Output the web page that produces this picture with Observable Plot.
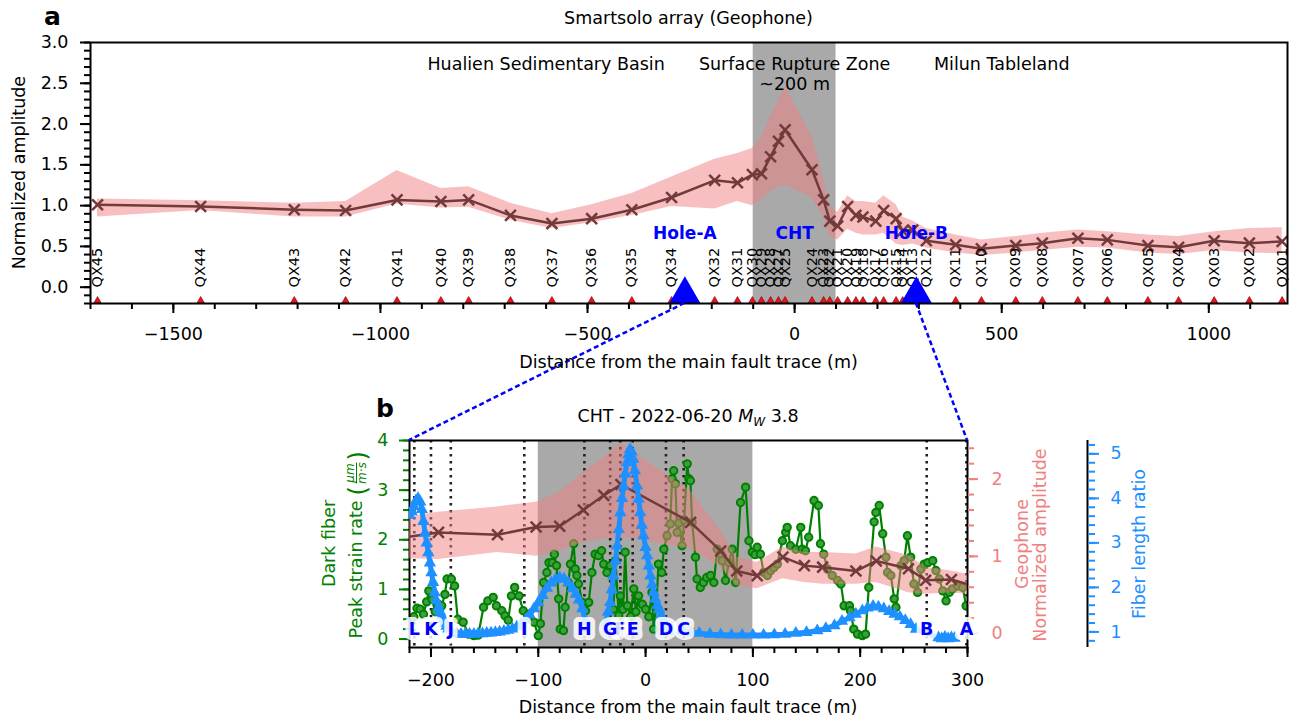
<!DOCTYPE html>
<html><head><meta charset="utf-8">
<script src="https://cdn.jsdelivr.net/npm/d3@7"></script>
<script src="https://cdn.jsdelivr.net/npm/@observablehq/plot@0.6"></script>
<style>
body{margin:0;background:#fff;}
#fig{position:relative;width:1293px;height:720px;overflow:hidden;background:#fff;font-family:"DejaVu Sans",sans-serif;}
</style></head><body><div id="fig"></div>
<script>
// ---------------- data ----------------
const stationNames = ["QX45","QX44","QX43","QX42","QX41","QX40","QX39","QX38","QX37","QX36","QX35","QX34","QX32","QX31","QX30","QX29","QX28","QX27","QX25","QX24","QX23","QX22","QX21","QX20","QX19","QX18","QX17","QX16","QX15","QX14","QX13","QX12","QX11","QX10","QX09","QX08","QX07","QX06","QX05","QX04","QX03","QX02","QX01"];
const stationDistance = [-1683,-1434,-1208,-1084,-960,-854,-787,-686,-586,-490,-393,-297,-193,-138,-102,-80,-58,-39,-23,42,70,85,104,128,148,165,196,215,245,261,285,318,389,451,534,598,684,755,853,927,1013,1098,1177];
const geoMean = [1.01,0.99,0.95,0.94,1.07,1.05,1.07,0.88,0.78,0.84,0.95,1.10,1.31,1.28,1.38,1.39,1.60,1.79,1.93,1.44,1.07,0.81,0.75,0.99,0.88,0.86,0.81,0.94,0.84,0.69,0.70,0.57,0.52,0.47,0.51,0.54,0.60,0.58,0.51,0.49,0.57,0.54,0.56];
const geoLow = [0.86,0.94,0.86,0.86,1.02,0.97,0.98,0.82,0.72,0.79,0.88,0.99,0.96,1.05,1.00,1.07,1.18,1.22,1.25,1.10,0.86,0.62,0.58,0.71,0.66,0.64,0.64,0.66,0.53,0.51,0.53,0.48,0.42,0.39,0.42,0.45,0.49,0.48,0.42,0.40,0.45,0.42,0.41];
const geoHigh = [1.08,1.06,1.03,1.05,1.43,1.21,1.23,1.03,0.90,1.01,1.15,1.35,1.57,1.64,1.70,1.83,2.09,2.28,2.46,1.85,1.33,0.99,0.92,1.12,1.05,1.05,1.03,1.12,1.01,0.86,0.81,0.72,0.64,0.58,0.62,0.66,0.70,0.68,0.64,0.62,0.68,0.72,0.73];

const ruptureZone = [-100, 100];
const regionNames = ["Hualien Sedimentary Basin", "Surface Rupture Zone\n~200 m", "Milun Tableland"];
const regionDistance = [-600, 0, 500];
const siteNames = ["Hole-A", "CHT", "Hole-B"];
const siteDistance = [-265, 0, 294];
const holeNames = ["Hole-A", "Hole-B"];
const holeDistance = [-265, 294];

const letterNames = ["L","K","J","I","H","G","F","E","D","C","B","A"];
const letterDistance = [-215.5,-200,-181.5,-113,-57,-33,-23.5,-12,19,35.5,262,299];

const greenDistance = [-219,-216,-213,-210,-207,-204,-202,-199,-196,-193,-190,-187,-185,-181,-178,-175,-170,-165,-160,-156,-151,-147,-142,-139,-134,-131,-128,-125,-122,-118,-114,-109,-104,-100,-98,-95,-92,-90,-87,-85,-83,-81,-79.5,-76.5,-75,-72,-70,-67,-65.5,-64,-62.5,-59,-56,-53,-50,-47,-44,-41,-39,-36,-33,-30,-28,-25,-23.5,-21,-19,-17,-14,-11,-9,-6.5,-3,0,3,6,7.5,10,12,15,17,20,23,24.7,26.2,27.8,29.4,31,34,36,38.8,40.3,41.8,43.4,46.5,48,51,54,57,60.5,63.6,66.8,70,71.4,74.5,77.6,80.8,83.9,88.5,93.2,96.3,99.5,102,104,107,110,113.5,116.5,119.6,122.8,127.5,130.6,132,135,140,144.6,146,149,152,157,161,163,166,169.5,174,179,182,185,190,191,194,197.5,202,205,208,213,214.6,217.7,221,224,225.5,228.6,231.7,233.3,238,241,244,247,250,253.5,256.6,259.7,263,267.6,270.6,273.7,277,280,283,286,291,295.6,298.7];
const greenRate = [0.40,0.45,0.62,0.60,0.50,0.75,0.97,0.80,0.55,0.70,0.67,0.90,1.21,1.21,1.07,0.40,0.34,0.10,0.07,0.08,0.64,0.77,0.84,0.67,0.57,0.47,0.38,0.87,1.04,0.87,0.57,0.50,0.34,0.07,0.31,1.14,1.34,1.54,1.54,1.71,1.48,0.81,0.20,0.17,0.64,1.14,1.51,1.92,1.41,1.28,1.11,0.74,0.57,0.74,1.34,1.71,1.68,1.78,1.51,1.34,1.48,0.60,1.58,0.47,0.87,0.60,1.75,0.67,0.45,1.01,0.55,0.87,0.70,0.60,0.45,0.94,0.20,0.65,1.51,1.34,1.81,2.08,2.32,3.23,3.39,3.13,2.15,2.34,1.88,2.40,3.53,3.23,3.19,2.35,1.65,1.21,1.04,1.14,1.24,1.28,1.14,1.81,1.71,1.58,1.18,1.54,1.81,1.14,2.75,3.06,1.98,1.75,1.70,1.85,1.71,1.34,1.28,1.38,1.44,1.51,1.98,2.15,2.25,1.88,1.81,2.25,1.81,1.78,2.05,2.79,2.69,1.92,1.71,1.41,1.28,1.18,1.11,0.67,0.67,0.57,0.20,0.10,0.07,0.10,1.04,2.36,2.55,2.69,2.12,1.65,1.34,1.28,0.81,0.64,1.48,1.58,2.08,1.65,1.11,0.94,1.41,1.51,1.54,1.58,1.38,1.21,0.97,0.77,0.94,1.01,1.07,1.04,0.67];

const fiberDistance = [-220,-218,-216,-214,-212,-210,-208.5,-207,-205.5,-204,-202.5,-201,-199.5,-198,-196.5,-195,-193,-191.5,-190,-188.5,-187,-185.5,-184,
 -180,-176,-172,-168,-164,-160,-156,-152,-148,-144,-140,-136,-132,-128,-124,-120,-116,-112,-108,-104,-100,-96,-92,-88,-84,-80,-76,-72,-68,-65,-62,-59,-56,
 -37,-35,-33,-31.5,-30,-28,-26.5,-25,-23.5,-22,-20.5,-19,-17.5,-16,-14.5,-13,-11.5,-10,-8,-6.5,-5,-3.5,-2,0,1.5,3,4.5,6,7.5,9,11,12.5,14.5,17,20,24,30,36,42,50,60,70,80,90,100,110,120,130,140,150,160,168,176,183,190,196,202,207,212,217,222,227,232,237,242,247,252,
 273,276,279,282,285,288];
const fiberRatio = [3.62,3.70,3.82,3.95,4.00,3.92,3.75,3.48,3.22,3.00,2.78,2.55,2.33,2.11,1.88,1.70,1.55,1.45,1.36,1.28,1.20,1.13,1.06,
 0.98,0.96,0.95,0.95,0.95,0.95,0.96,0.96,0.97,0.98,0.99,1.00,1.02,1.04,1.07,1.11,1.17,1.27,1.38,1.52,1.66,1.82,1.98,2.10,2.18,2.22,2.19,2.10,1.97,1.85,1.72,1.52,1.25,
 1.21,1.45,1.66,1.95,2.26,2.60,2.93,3.30,3.68,4.00,4.28,4.55,4.80,4.98,5.10,5.05,4.88,4.62,4.28,3.98,3.68,3.40,3.16,2.90,2.71,2.48,2.26,2.06,1.88,1.74,1.60,1.51,1.38,1.25,1.10,1.06,1.03,1.01,0.99,0.97,0.95,0.94,0.93,0.93,0.93,0.93,0.94,0.95,0.97,0.99,1.03,1.08,1.14,1.24,1.32,1.40,1.48,1.54,1.58,1.56,1.52,1.46,1.40,1.34,1.26,1.17,1.06,
 0.87,0.85,0.88,0.85,0.87,0.86];
const fiberSegment = [...Array(23).fill(0), ...Array(33).fill(1), ...Array(73).fill(2), ...Array(6).fill(3)];

const topXTicks = [-1500,-1000,-500,0,500,1000];
const topYTicks = [0,0.5,1,1.5,2,2.5,3];
const bottomXTicks = [-200,-100,0,100,200,300];
const strainTicks = [0,1,2,3,4];
const geoTicks = [0,1,2];
const ratioTicks = [1,2,3,4,5];

// ---------------- tables ----------------
const stations = stationNames.map((name, i) => ({name, x: stationDistance[i], mean: geoMean[i], lo: geoLow[i], hi: geoHigh[i]}));
const regions = regionNames.map((name, i) => ({name, x: regionDistance[i]}));
const sites = siteNames.map((name, i) => ({name, x: siteDistance[i]}));
const holes = holeNames.map((name, i) => ({name, x: holeDistance[i]}));
const letters = letterNames.map((name, i) => ({name, x: letterDistance[i]}));
const lettersDraw = letters.slice().sort((a, b) => (a.name === "F" ? -1 : 0) - (b.name === "F" ? -1 : 0));
const green = greenDistance.map((x, i) => ({x, y: greenRate[i]}));
const fiber = fiberDistance.map((x, i) => ({x, y: fiberRatio[i], seg: fiberSegment[i]}));

// ---------------- styles ----------------
const BROWN = "#723a3a", PINK = "#f08080", BLUE = "#1e90ff", GREEN = "#008000";
const baseStyle = {fontFamily: "DejaVu Sans", fontSize: "17.5px", background: "transparent", overflow: "visible"};
const fmtInt = d3.format("d"), fmt1 = d3.format(".1f");
const noText = () => "";
const range = (a, b, s) => d3.range(Math.round(a / s), Math.round(b / s) + 1).map(i => +(i * s).toFixed(4));

const fig = document.getElementById("fig");
function place(svg, top) {
  svg.style.position = "absolute"; svg.style.left = "0px"; svg.style.top = top + "px";
  fig.appendChild(svg); return svg;
}

// ---------------- panel a ----------------
const topPlot = Plot.plot({
  width: 1293, height: 390, marginLeft: 90, marginRight: 6, marginTop: 42, marginBottom: 87,
  style: baseStyle,
  x: {domain: [-1700, 1190]}, y: {domain: [-0.2, 3.0]},
  marks: [
    Plot.rect([ruptureZone], {x1: d => d[0], x2: d => d[1], fill: "#a9a9a9"}),
    Plot.areaY(stations, {x: "x", y1: "lo", y2: "hi", fill: PINK, fillOpacity: 0.5}),
    Plot.line(stations, {x: "x", y: "mean", stroke: BROWN, strokeWidth: 2.5}),
    Plot.dot(stations, {x: "x", y: "mean", symbol: "times", r: 5, stroke: BROWN, strokeWidth: 2.5}),
    Plot.text(regions, {x: "x", text: "name", frameAnchor: "top", dy: 13, lineAnchor: "top", lineHeight: 1.15, fontSize: 17.5}),
    Plot.text(stations, {x: "x", text: "name", frameAnchor: "bottom", dy: -16, rotate: -90, textAnchor: "start", lineAnchor: "middle", fontSize: 14.5}),
    Plot.dot(stations, {x: "x", frameAnchor: "bottom", symbol: "triangle", r: 4.5, fill: "#e8141c", stroke: "#7a0000", strokeWidth: 0.6, clip: true}),
    Plot.text(sites, {x: "x", text: "name", frameAnchor: "bottom", dy: -65, fill: "blue", fontWeight: "bold", fontSize: 17}),
    Plot.dot(holes, {x: "x", frameAnchor: "bottom", symbol: "triangle", r: 17.5, fill: "blue", clip: true}),
    Plot.axisX({ticks: range(-1700, 1100, 100), tickSize: 6, tickFormat: noText, label: null, strokeWidth: 2}),
    Plot.axisX({ticks: topXTicks, tickSize: 10, tickPadding: 14, tickFormat: fmtInt, label: null, strokeWidth: 2}),
    Plot.axisY({ticks: range(-0.2, 3, 0.1), tickSize: 6, tickFormat: noText, label: null, strokeWidth: 2}),
    Plot.axisY({ticks: topYTicks, tickSize: 10, tickPadding: 12, tickFormat: fmt1, label: null, strokeWidth: 2}),
    Plot.frame({stroke: "black", strokeWidth: 2})
  ]
});
place(topPlot, 0);

// ---------------- panel b ----------------
const B = {width: 1293, height: 330, marginLeft: 409, marginRight: 326, marginTop: 50, marginBottom: 73, style: baseStyle};
const bx = {domain: [-220, 300]};

const strainPlot = Plot.plot({
  ...B, x: bx, y: {domain: [-0.17, 4]},
  marks: [
    Plot.rect([ruptureZone], {x1: d => d[0], x2: d => d[1], fill: "#a9a9a9"}),
    Plot.ruleX(letters, {x: "x", stroke: "#222", strokeWidth: 2.6, strokeDasharray: "2.5,4.5"}),
    Plot.line(green, {x: "x", y: "y", stroke: GREEN, strokeWidth: 2.2, clip: true}),
    Plot.dot(green, {x: "x", y: "y", r: 3.7, stroke: GREEN, strokeWidth: 2, fill: "#3f9f3f", clip: true}),
    Plot.axisX({ticks: range(-220, 300, 20), tickSize: 6, tickFormat: noText, label: null, strokeWidth: 2}),
    Plot.axisX({ticks: bottomXTicks, tickSize: 10, tickPadding: 16, tickFormat: fmtInt, label: null, strokeWidth: 2}),
    Plot.axisY({ticks: range(0, 4, 0.2), tickSize: 6, tickFormat: noText, label: null, strokeWidth: 2, color: GREEN}),
    Plot.axisY({ticks: strainTicks, tickSize: 10, tickPadding: 11, tickFormat: fmtInt, label: null, strokeWidth: 2, color: GREEN}),
    Plot.frame({stroke: "black", strokeWidth: 2})
  ]
});
place(strainPlot, 390);

const geoPlot = Plot.plot({
  ...B, x: {...bx, axis: null}, y: {domain: [-0.18, 2.5]},
  marks: [
    Plot.areaY(stations, {x: "x", y1: "lo", y2: "hi", fill: PINK, fillOpacity: 0.5, clip: true}),
    Plot.line(stations, {x: "x", y: "mean", stroke: BROWN, strokeWidth: 2.5, clip: true}),
    Plot.dot(stations, {x: "x", y: "mean", symbol: "times", r: 5, stroke: BROWN, strokeWidth: 2.5, clip: true}),
    Plot.axisY({anchor: "right", ticks: range(0, 2.4, 0.2), tickSize: 6, tickFormat: noText, label: null, strokeWidth: 2, color: PINK}),
    Plot.axisY({anchor: "right", ticks: geoTicks, tickSize: 10, tickPadding: 14, tickFormat: fmtInt, label: null, strokeWidth: 2, color: PINK})
  ]
});
place(geoPlot, 390);

const fiberPlot = Plot.plot({
  ...B, x: {...bx, axis: null}, y: {domain: [0.65, 5.3], axis: null},
  marks: [
    Plot.line(fiber, {x: "x", y: "y", z: "seg", stroke: BLUE, strokeWidth: 5, clip: true}),
    Plot.dot(fiber, {x: "x", y: "y", symbol: "triangle", r: 4.6, fill: BLUE, clip: true}),
    Plot.text(lettersDraw, {x: "x", text: "name", frameAnchor: "bottom", dy: -13, fill: "blue", fontWeight: "bold", fontSize: 17.5,
      stroke: "white", strokeWidth: 10, strokeOpacity: 0.85, strokeLinejoin: "round", paintOrder: "stroke"})
  ]
});
place(fiberPlot, 390);

const ratioAxis = Plot.plot({
  ...B, marginLeft: 1000, marginRight: 206, x: {domain: [0, 1], axis: null}, y: {domain: [0.65, 5.3]},
  marks: [
    Plot.ruleX([1], {stroke: "black", strokeWidth: 2}),
    Plot.axisY({anchor: "right", ticks: range(0.8, 5.2, 0.2), tickSize: 7, tickFormat: noText, label: null, strokeWidth: 2, color: BLUE}),
    Plot.axisY({anchor: "right", ticks: ratioTicks, tickSize: 11, tickPadding: 12, tickFormat: fmtInt, label: null, strokeWidth: 2, color: BLUE})
  ]
});
place(ratioAxis, 390);

// ---------------- labels and connectors ----------------
const tx = topPlot.scale("x"), ty = topPlot.scale("y");
const sx = strainPlot.scale("x"), sy = strainPlot.scale("y");
const axisY0 = ty.apply(ty.domain[0]);
const bLeft = sx.apply(sx.domain[0]), bRight = sx.apply(sx.domain[1]);
const bTop = 390 + sy.apply(sy.domain[1]);
const hA = tx.apply(holeDistance[0]), hB = tx.apply(holeDistance[1]);

const overlay = `
<svg xmlns="http://www.w3.org/2000/svg" width="1293" height="720" style="position:absolute;left:0;top:0;overflow:visible;font-family:'DejaVu Sans',sans-serif;font-size:17.5px">
  <line x1="${hA}" y1="${axisY0}" x2="${bLeft}" y2="${bTop}" stroke="blue" stroke-width="2.5" stroke-dasharray="5,3"/>
  <line x1="${hB}" y1="${axisY0}" x2="${bRight}" y2="${bTop}" stroke="blue" stroke-width="2.5" stroke-dasharray="5,3"/>
  <text x="44" y="25" font-weight="bold" font-size="25">a</text>
  <text x="688.5" y="24" text-anchor="middle">Smartsolo array (Geophone)</text>
  <text transform="translate(25,172.5) rotate(-90)" text-anchor="middle">Normalized amplitude</text>
  <text x="688.5" y="368" text-anchor="middle">Distance from the main fault trace (m)</text>
  <text x="376" y="416.5" font-weight="bold" font-size="25">b</text>
  <text x="688" y="421.5" text-anchor="middle">CHT - 2022-06-20 <tspan font-style="italic">M</tspan><tspan font-style="italic" font-size="12" dy="4">W</tspan><tspan dy="-4"> 3.8</tspan></text>
  <text x="688" y="713" text-anchor="middle">Distance from the main fault trace (m)</text>
  <g fill="${GREEN}">
    <text transform="translate(335,543.5) rotate(-90)" text-anchor="middle">Dark fiber</text>
    <g transform="translate(361.5,543.5) rotate(-90)">
      <text x="-95" y="0">Peak strain rate</text>
      <text x="48" y="4" font-size="24">(</text>
      <text x="70.5" y="-8" font-size="12" font-style="italic" text-anchor="middle">μm</text>
      <line x1="60" x2="81" y1="-5" y2="-5" stroke="${GREEN}" stroke-width="1"/>
      <text x="70.5" y="4.5" font-size="12" font-style="italic" text-anchor="middle">m·s</text>
      <text x="83" y="4" font-size="24">)</text>
    </g>
  </g>
  <g fill="${PINK}">
    <text transform="translate(1028,544) rotate(-90)" text-anchor="middle">Geophone</text>
    <text transform="translate(1046,545) rotate(-90)" text-anchor="middle">Normalized amplitude</text>
  </g>
  <text transform="translate(1145,544) rotate(-90)" text-anchor="middle" fill="${BLUE}">Fiber length ratio</text>
</svg>`;
fig.insertAdjacentHTML("beforeend", overlay);
</script></body></html>
